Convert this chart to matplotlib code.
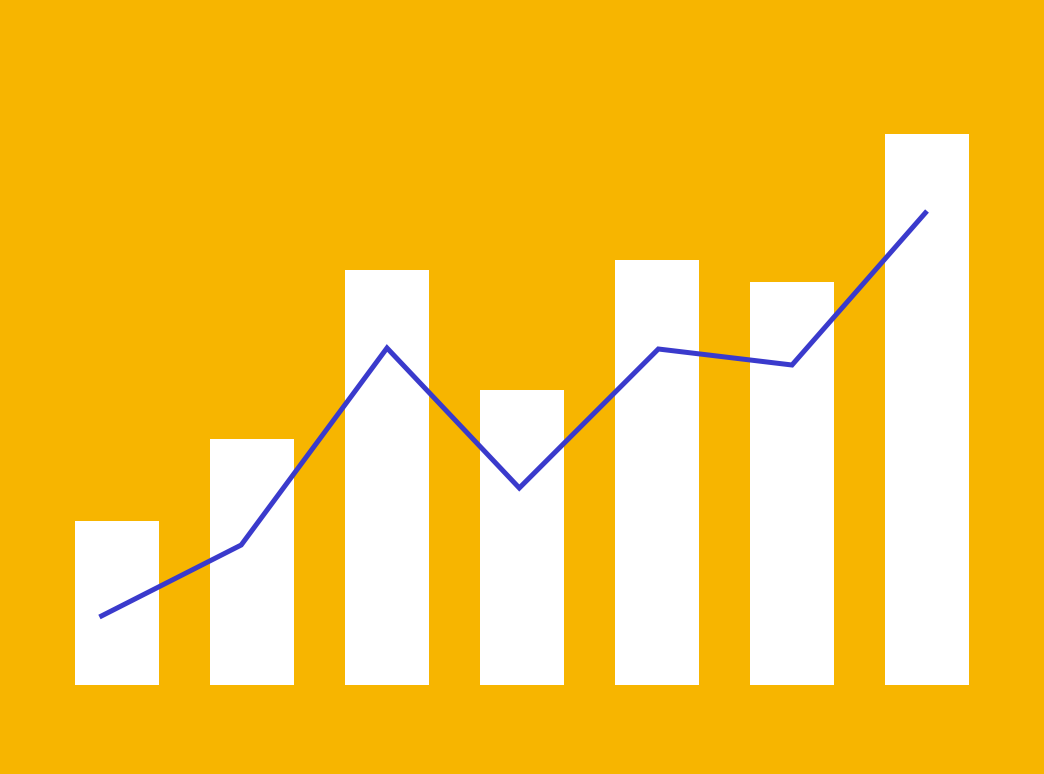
import matplotlib
matplotlib.use("Agg")
import matplotlib.pyplot as plt

# bar values and line values (chart units, bottom of bars = 0)
bar_pos = [0, 1, 2, 3, 4, 5, 6]
bar_values = [164, 246, 415, 295, 425, 403, 551]
line_pos = [-0.13, 0.92, 2.0, 2.98, 4.01, 5.0, 6.0]
line_values = [68, 140, 337, 197, 336, 320, 474]

BG = "#F7B500"
LINE = "#3A3ACC"

fig = plt.figure(figsize=(10.44, 7.74), dpi=100)
fig.patch.set_facecolor(BG)
ax = fig.add_axes([0, 0, 1, 1])
ax.set_facecolor(BG)

ax.bar(bar_pos, bar_values, width=0.622, color="white", linewidth=0)
ax.plot(line_pos, line_values, color=LINE, linewidth=3.6,
        solid_joinstyle="miter", solid_capstyle="butt")

ax.set_xlim(-117 / 135, (1044 - 117) / 135)
ax.set_ylim(-89, 685)
ax.axis("off")

fig.savefig("out.png", dpi=100, facecolor=BG)
